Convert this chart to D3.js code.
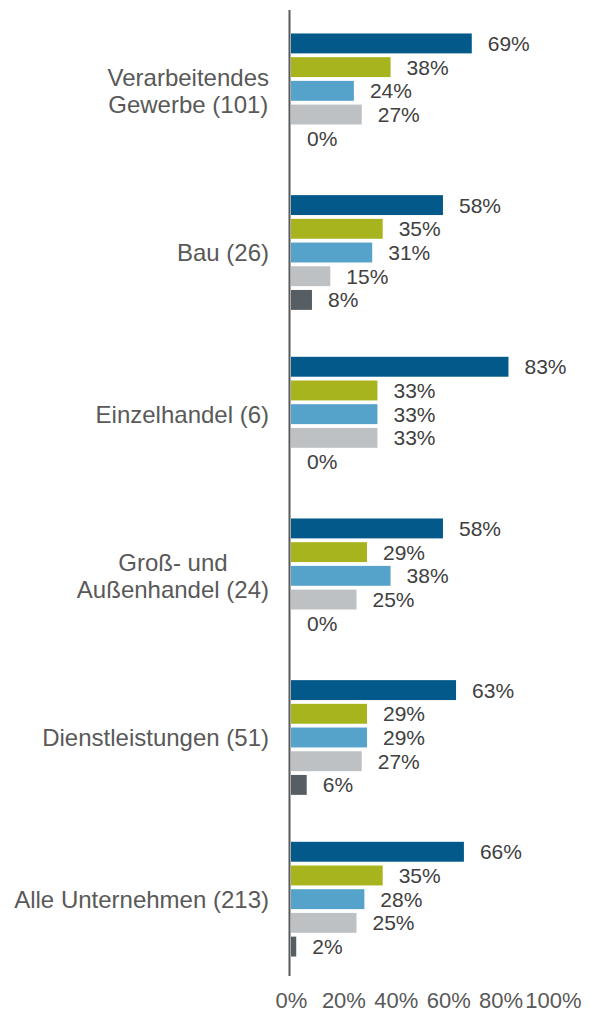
<!DOCTYPE html>
<html>
<head>
<meta charset="utf-8">
<script src="https://cdn.jsdelivr.net/npm/d3@7"></script>
<style>
  body { margin: 0; background: #ffffff; }
  svg { display: block; font-family: "Liberation Sans", Arial, Helvetica, sans-serif; }
</style>
</head>
<body>
<svg id="chart"></svg>
<script>
// categories (line breaks as in the original labels)
var categories = [
  "Verarbeitendes\nGewerbe (101)",
  "Bau (26)",
  "Einzelhandel (6)",
  "Groß- und\nAußenhandel (24)",
  "Dienstleistungen (51)",
  "Alle Unternehmen (213)"
];
var seriesKeys = ["s1", "s2", "s3", "s4", "s5"];
var seriesColors = ["#035A8A", "#A8B41E", "#55A2CA", "#BEC1C3", "#565D63"];

// values in percent, one array per series
var s1 = [69, 58, 83, 58, 63, 66];
var s2 = [38, 35, 33, 29, 29, 35];
var s3 = [24, 31, 33, 38, 29, 28];
var s4 = [27, 15, 33, 25, 27, 25];
var s5 = [0, 8, 0, 0, 6, 2];

var tickValues = [0, 20, 40, 60, 80, 100];

var width = 593, height = 1019;
var svg = d3.select("#chart").attr("width", width).attr("height", height);

var allSeries = [s1, s2, s3, s4, s5];
var rows = categories.map(function(c, i) {
  return { cat: c, vals: allSeries.map(function(s, j) { return { key: seriesKeys[j], v: s[i] }; }) };
});

var y0 = d3.scaleBand().domain(categories).range([10, 980]);
var y1 = d3.scaleBand().domain(seriesKeys).range([0, y0.bandwidth()])
  .paddingInner(0.16).paddingOuter(0.99);
var x = d3.scaleLinear().domain([0, 100]).range([291, 553]);
var color = d3.scaleOrdinal().domain(seriesKeys).range(seriesColors);

var groups = svg.append("g").attr("class", "groups")
  .selectAll("g")
  .data(rows)
  .enter().append("g")
    .attr("transform", function(d) { return "translate(0," + y0(d.cat) + ")"; });

groups.selectAll("rect")
  .data(function(d) { return d.vals; })
  .enter().append("rect")
    .attr("x", x(0))
    .attr("y", function(d) { return y1(d.key); })
    .attr("width", function(d) { return Math.max(0, x(d.v) - x(0)); })
    .attr("height", y1.bandwidth())
    .style("fill", function(d) { return color(d.key); });

groups.selectAll("text.value")
  .data(function(d) { return d.vals; })
  .enter().append("text")
    .attr("class", "value")
    .attr("x", function(d) { return x(d.v) + 16; })
    .attr("y", function(d) { return y1(d.key) + y1.bandwidth() / 2; })
    .attr("dy", "0.36em")
    .style("font-size", "21px")
    .style("fill", "#404040")
    .text(function(d) { return d.v + "%"; });

// category labels: block right-aligned at the axis, lines centred inside the block
var labelRight = 269;
groups.append("text")
  .attr("class", "cat")
  .attr("text-anchor", "middle")
  .style("font-size", "24px")
  .style("fill", "#595959")
  .each(function(d) {
    var lines = d.cat.split("\n");
    var t = d3.select(this);
    var mid = y0.bandwidth() / 2;
    var lh = 27;
    var spans = lines.map(function(line, k) {
      return t.append("tspan")
        .attr("y", mid + (k - (lines.length - 1) / 2) * lh)
        .attr("dy", "0.36em")
        .text(line);
    });
    var maxW = d3.max(spans, function(s) { return s.node().getComputedTextLength(); });
    spans.forEach(function(s) { s.attr("x", labelRight - maxW / 2); });
  });

// vertical axis line
svg.append("line")
  .attr("x1", 289.5).attr("x2", 289.5)
  .attr("y1", 10).attr("y2", 976)
  .style("stroke", "#595959")
  .style("stroke-width", 2);

// x axis tick labels
var xAxis = d3.axisBottom(x).tickValues(tickValues)
  .tickFormat(function(d) { return d + "%"; })
  .tickSize(0).tickPadding(0);

var axisG = svg.append("g")
  .attr("transform", "translate(0,992)")
  .call(xAxis);
axisG.select(".domain").remove();
axisG.selectAll("text")
  .attr("dy", "0.71em")
  .style("font-size", "22px")
  .style("font-family", "'Liberation Sans', Arial, sans-serif")
  .style("fill", "#595959");
</script>
</body>
</html>
